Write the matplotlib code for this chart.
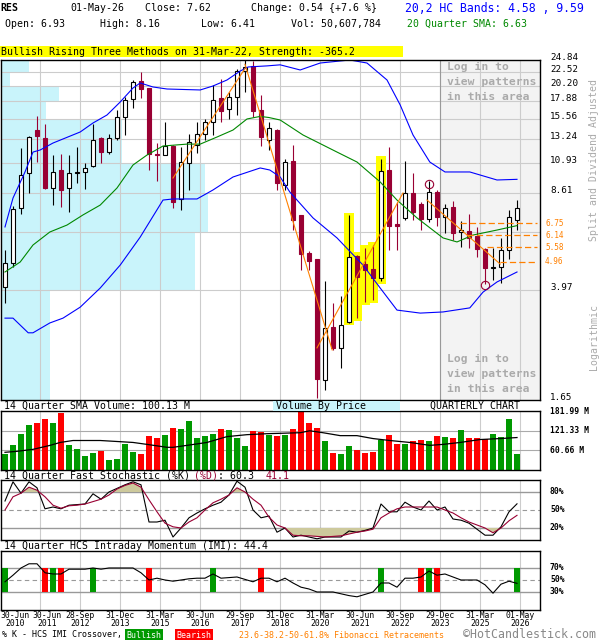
#!/usr/bin/env python3
"""Quarterly candlestick chart for RES in the HotCandlestick layout."""
import matplotlib
matplotlib.use("Agg")
import matplotlib.pyplot as plt
from matplotlib.patches import Rectangle
from matplotlib.transforms import blended_transform_factory as blend

plt.rcParams["font.family"] = "DejaVu Sans Mono"

# ── data: one entry per quarter, index 0 = Q2 2010 ... 64 = Q2 2026 ─────────
opens = [4.05, 4.91, 7.6, 10.1, 14.2, 13.3, 8.95, 10.3, 8.95, 10.1,
         10.2, 10.7, 13.3, 11.9, 13.3, 15.8, 18.2, 21.0, 19.8, 11.7,
         11.6, 12.5, 8.2, 10.9, 12.6, 13.8, 15.2, 18.4, 16.8, 18.5,
         22.7, 23.7, 16.7, 13.1, 14.2, 9.2, 11.1, 7.2, 5.35, 5.1,
         1.93, 2.96, 2.5, 3.07, 5.2, 4.9, 4.68, 4.35, 10.3, 6.7,
         7.05, 8.6, 7.9, 7.0, 8.7, 7.1, 7.7, 6.3, 6.35, 6.1,
         5.5, 4.73, 4.76, 5.46, 6.93]
highs = [5.46, 7.75, 12.3, 13.6, 15.9, 14.9, 11.6, 11.7, 11.6, 12.4,
         10.9, 14.9, 13.4, 13.8, 16.7, 18.5, 21.2, 22.6, 19.9, 12.8,
         15.1, 12.6, 12.4, 13.8, 15.2, 15.5, 20.3, 21.3, 19.3, 23.1,
         24.8, 24.6, 18.8, 15.1, 14.3, 11.3, 12.6, 7.2, 5.4, 5.1,
         4.26, 3.58, 3.78, 7.2, 5.25, 5.55, 5.7, 11.3, 12.4, 8.0,
         11.1, 10.1, 8.0, 9.45, 8.8, 7.9, 8.1, 6.9, 7.25, 6.55,
         5.55, 5.55, 6.0, 7.5, 8.16]
lows = [3.57, 4.77, 7.3, 8.6, 11.0, 8.9, 7.8, 7.7, 7.4, 9.3,
        8.9, 10.6, 10.9, 11.7, 13.1, 13.7, 17.0, 18.4, 10.3, 9.46,
        11.6, 7.6, 7.5, 8.8, 11.8, 13.1, 13.7, 15.1, 15.5, 16.0,
        19.3, 15.8, 12.5, 12.1, 8.8, 8.8, 6.4, 4.65, 4.65, 1.67,
        1.79, 2.46, 2.13, 3.05, 3.17, 3.6, 3.66, 4.26, 5.46, 5.46,
        6.95, 6.95, 6.4, 6.8, 6.6, 6.25, 5.9, 5.6, 5.55, 5.15,
        4.16, 4.3, 4.2, 5.1, 6.41]
closes = [4.91, 7.58, 9.93, 13.4, 13.5, 8.95, 10.2, 8.8, 10.1, 10.2,
          10.5, 13.1, 11.9, 13.3, 15.8, 18.1, 20.8, 19.7, 11.7, 11.6,
          12.5, 8.0, 11.0, 12.9, 13.8, 15.2, 18.1, 16.5, 18.5, 22.7,
          23.5, 16.5, 13.4, 14.4, 9.35, 11.0, 6.93, 5.3, 5.0, 1.95,
          2.93, 2.5, 3.0, 5.15, 4.4, 4.65, 4.35, 10.25, 6.6, 6.6,
          8.6, 7.4, 7.0, 8.7, 7.1, 7.6, 6.25, 6.4, 6.0, 5.5,
          4.73, 4.76, 5.46, 7.1, 7.62]
volume_m = [48.5, 75.8, 112, 139.5, 145.6, 157.7, 145.6, 176, 75.8, 63.7,
            42.5, 51.6, 57.6, 30.3, 33.4, 78.9, 54.6, 48.5, 106, 100,
            109, 130, 127, 152, 100, 106, 112, 127, 124, 100,
            72.8, 121, 118, 109, 106, 109, 127, 179, 145.6, 130,
            88, 51.6, 48.5, 72.8, 60.7, 51.6, 54.6, 94, 109, 78.9,
            78.9, 88, 94, 88, 106, 103, 100, 124, 100, 100,
            97, 112, 103, 158, 50.6]
stoch_k = [65, 97, 78, 97, 87, 52, 55, 52, 58, 59,
           60, 77, 68, 80, 86, 92, 97, 92, 30, 30,
           33, 5, 20, 37, 45, 52, 58, 63, 75, 98,
           88, 50, 37, 40, 13, 20, 5, 8, 5, 2,
           5, 5, 5, 15, 13, 16, 20, 60, 47, 47,
           63, 55, 50, 65, 50, 55, 35, 33, 28, 18,
           8, 8, 22, 47, 60.3]
stoch_d = [50, 72, 78, 88, 83, 72, 58, 53, 57, 58,
           60, 64, 68, 75, 85, 91, 95, 88, 67, 47,
           28, 22, 20, 30, 37, 50, 62, 68, 75, 87,
           80, 68, 58, 38, 25, 20, 8, 7, 7, 6,
           5, 6, 7, 10, 13, 15, 18, 37, 45, 52,
           55, 55, 55, 55, 55, 50, 45, 37, 30, 25,
           20, 12, 20, 32, 41.1]
imi = [47, 58, 70, 77, 77, 62, 60, 60, 68, 68,
       68, 70, 68, 70, 70, 70, 70, 62, 50, 53,
       50, 48, 50, 52, 53, 53, 60, 53, 54, 55,
       51, 47, 53, 53, 47, 53, 45, 38, 35, 30,
       30, 30, 27, 24, 22, 26, 30, 45, 45, 38,
       53, 53, 55, 65, 58, 60, 55, 50, 50, 50,
       42, 28, 43, 48, 44.4]

# overlay lines, read at (quarter, value) points
upper_q = [0, 1, 2.5, 3.5, 4.4, 6, 9.4, 11, 12.75, 14.4, 16, 16.9, 18.5, 20.25,
           24.4, 26, 27.75, 29.4, 30.4, 32.75, 34.4, 36.9, 39.4, 43.1, 45.25,
           47.75, 49.4, 51, 53.1, 55, 58.1, 61.5, 64]
upper_v = [6.56, 8.26, 10.17, 11.92, 12.12, 12.81, 13.99, 15.03, 16.02, 17.77,
           19.87, 20.68, 20.03, 19.71, 19.56, 20.19, 21.18, 22.75, 23.5, 23.7,
           23.9, 22.94, 24.25, 24.84, 24.25, 21.18, 17.35, 13.66, 11.01, 10.17,
           10.17, 9.54, 9.59]
lower_q = [0, 1, 2.9, 3.5, 5.6, 7.25, 9.4, 11.9, 14.4, 16.9, 19.75, 21, 24, 26,
           28.5, 31.9, 33.1, 34.4, 35.6, 38.5, 41.5, 44.75, 46.9, 49, 51.9,
           54.75, 58.1, 59.75, 61.5, 64]
lower_v = [3.17, 3.17, 2.82, 2.82, 3.05, 3.17, 3.46, 4.03, 4.84, 6.05, 8.13, 8.2,
           8.2, 8.81, 9.77, 10.5, 10.33, 9.77, 8.67, 7.05, 6.01, 4.84, 4.03,
           3.38, 3.30, 3.33, 3.44, 3.90, 4.23, 4.58]
sma_q = [0, 1.9, 3.5, 5.6, 7.75, 9.75, 11.9, 14, 16, 17.75, 19.75, 22.75, 24.4,
         26.5, 28.5, 30.25, 31.9, 33, 34.4, 37.25, 41.5, 44, 46.9, 49, 51.5,
         54.75, 56.5, 58.5, 61.5, 64]
sma_v = [4.58, 4.96, 5.68, 6.30, 6.66, 7.22, 7.81, 8.95, 10.75, 11.64, 12.51,
         12.7, 12.7, 13.44, 14.21, 15.52, 15.84, 15.7, 15.39, 13.66, 11.92,
         11.01, 9.39, 8.13, 7.05, 6.01, 5.82, 6.15, 6.40, 6.63]
vol_sma_q = [0, 1.5, 3.5, 5.6, 6.9, 8.5, 11.9, 16, 17.75, 20.25, 21, 22.75, 25.25,
             27.75, 30.25, 32.75, 36.9, 38.1, 39.75, 41.9, 44, 46, 48.1, 50.6,
             53.1, 54.75, 56.9, 59.4, 61.9, 64]
vol_sma_v = [54.6, 57.6, 63.7, 75.8, 85, 91, 91, 85, 79, 70, 70, 76, 85, 103,
             109, 112, 115, 121, 115, 106, 106, 97, 91, 85, 76, 79, 85, 94, 97,
             100.13]
zig_q = [[21, 30], [30, 40.9], [39, 49.75], [52.75, 61.9]]
zig_v = [[9.69, 23.2], [24.0, 2.46], [2.5, 8.6], [8.13, 4.88]]
fib_levels = [6.75, 6.14, 5.58, 4.96]
fib_start_q = [56.9, 57.75, 60.25, 61.9]
pivot_q = [53, 60]
pivot_v = [9.24, 4.13]
pattern_q = [43, 44, 45, 46, 47]
bull_cross_q = [0, 6, 11, 26, 47, 53, 64]
bear_cross_q = [5, 7, 18, 32, 52, 54]

# volume by price, per price-grid band (bottom to top)
price_grid = [1.65, 3.97, 6.29, 8.61, 10.93, 13.24, 15.56, 17.88, 20.20, 22.52, 24.84]
price_labels = ["1.65", "3.97", None, "8.61", "10.93", "13.24", "15.56",
                "17.88", "20.20", "22.52", "24.84"]
vbp_volume = [290, 1150, 1230, 1215, 720, 720, 265, 345, 55, 165]

tick_q = [0, 4, 9, 14, 19, 24, 29, 34, 39, 44, 49, 54, 59, 64]
tick_dates = ["30-Jun", "30-Jun", "28-Sep", "31-Dec", "31-Mar", "30-Jun", "29-Sep",
              "31-Dec", "31-Mar", "30-Jun", "30-Sep", "29-Dec", "31-Mar", "01-May"]
tick_years = ["2010", "2011", "2012", "2013", "2015", "2016", "2017",
              "2018", "2020", "2021", "2022", "2023", "2025", "2026"]

# ── style ───────────────────────────────────────────────────────────────────
W, H = 600, 640
X0, X1 = 1, 540                      # panel edges in pixels
XLIM = ((X0 - 5) / 8, (X1 - 5) / 8)  # quarter k sits at x = 5 + 8k
GRID_SHIFT = 0.375
GRID = "#cccccc"
LEVEL = "#999999"
RED_CANDLE = "#990033"
UP_GREEN = "#009900"
DOWN_RED = "#ff0000"
BLUE = "#0000ff"
SMA_GREEN = "#008800"
ORANGE = "#ff8000"
CYAN = "#c9f4fb"
FILL = "#cdc99c"
FS = 7.1
RIGHT_X = (550 - X0) / (X1 - X0)

fig = plt.figure(figsize=(W / 100, H / 100), dpi=100)


def fx(x):
    return x / W


def fy(y):
    return 1 - y / H


def ftext(x, y, s, **kw):
    kw.setdefault("fontsize", FS)
    kw.setdefault("va", "center")
    return fig.text(fx(x), fy(y), s, **kw)


def frect(x0, y0, x1, y1, color):
    fig.add_artist(Rectangle((fx(x0), fy(y1)), fx(x1) - fx(x0), fy(y0) - fy(y1),
                             transform=fig.transFigure, color=color, lw=0))


grid_q = [q + GRID_SHIFT for q in tick_q[1:]]


def panel(y0, y1):
    a = fig.add_axes([fx(X0), fy(y1), fx(X1) - fx(X0), fy(y0) - fy(y1)])
    a.set_xlim(XLIM)
    for s in a.spines.values():
        s.set_linewidth(1.0)
        s.set_zorder(10)
    for q in grid_q:
        a.axvline(q, color=GRID, lw=0.8, zorder=1)
    return a


def right_labels(a, values, labels, **kw):
    tr = blend(a.transAxes, a.transData)
    for v, s in zip(values, labels):
        if s:
            a.text(RIGHT_X, v, s, transform=tr, ha="left", **kw)


quarters = list(range(len(closes)))

# ── main price panel ────────────────────────────────────────────────────────
ax = panel(60, 400)
ax.set_yscale("log")
ax.set_ylim(price_grid[0], price_grid[-1])
ax.minorticks_off()
ax.set_xticks([])
ax.set_yticks([])
for v in price_grid[1:-1]:
    ax.axhline(v, color=GRID, lw=0.8, zorder=1)
right_labels(ax, price_grid, price_labels, va="baseline", fontsize=6.7)

lock_q = 54 + GRID_SHIFT
ax.axvspan(lock_q, XLIM[1], color="#f3f3f3", lw=0, zorder=0.3)
ax.axvline(lock_q, color=LEVEL, lw=0.8, zorder=1.2)

tr_vbp = blend(ax.transAxes, ax.transData)
vmax = max(vbp_volume)
for i, v in enumerate(vbp_volume):
    lo, hi = price_grid[i], price_grid[i + 1]
    ax.add_patch(Rectangle((0, lo), v / vmax * 0.384, hi - lo, transform=tr_vbp,
                           color=CYAN, lw=0, zorder=0.5))

for k in pattern_q:
    lo, hi = lows[k] / 1.02, highs[k] * 1.02
    ax.add_patch(Rectangle((k - 0.68, lo), 1.36, hi - lo, color="#ffff00",
                           lw=0, zorder=2))

for k, o, h, l, c in zip(quarters, opens, highs, lows, closes):
    up = c >= o
    col = "black" if up else RED_CANDLE
    ax.vlines(k, l, h, color=col, lw=0.8, zorder=3)
    b, t = min(o, c), max(o, c)
    ax.add_patch(Rectangle((k - 0.3, b), 0.6, t - b,
                           facecolor="white" if up else RED_CANDLE,
                           edgecolor=col, lw=0.8, zorder=4))

ax.plot(upper_q, upper_v, color=BLUE, lw=0.8, zorder=5)
ax.plot(lower_q, lower_v, color=BLUE, lw=0.8, zorder=5)
ax.plot(sma_q, sma_v, color=SMA_GREEN, lw=0.8, zorder=5)
for qs, vs in zip(zig_q, zig_v):
    ax.plot(qs, vs, color=ORANGE, lw=0.8, zorder=6)
for v, q0 in zip(fib_levels, fib_start_q):
    ax.plot([q0, (537 - 5) / 8], [v, v], color=ORANGE, lw=0.9,
            ls=(0, (5, 2.5)), zorder=6, clip_on=False)
tr_fib = blend(ax.transAxes, ax.transData)
for v in fib_levels:
    ax.text((545 - X0) / (X1 - X0), v, f"{v:.2f}", transform=tr_fib,
            color=ORANGE, fontsize=5.6, va="center", ha="left")
ax.plot(pivot_q, pivot_v, "o", mfc="none", mec=RED_CANDLE, ms=6, mew=0.8,
        zorder=7)

for y, s in zip([67, 82, 97, 359, 374, 389],
                ["Log in to", "view patterns", "in this area"] * 2):
    ftext(447, y, s, color="#aaaaaa", fontsize=8.2, fontweight="bold")

# ── volume panel ────────────────────────────────────────────────────────────
axv = panel(411, 470)
axv.set_ylim(0, 182)
axv.set_xticks([])
axv.set_yticks([])
vol_levels = [60.66, 121.33, 181.99]
for v in vol_levels[:2]:
    axv.axhline(v, color="#aaaaaa", lw=0.8, zorder=1)
bar_colors = [UP_GREEN if c >= o else DOWN_RED for o, c in zip(opens, closes)]
axv.bar(quarters, volume_m, width=0.68, color=bar_colors, zorder=3)
axv.plot(vol_sma_q, vol_sma_v, color="black", lw=0.9, zorder=4)
right_labels(axv, vol_levels, ["60.66 M", "121.33 M", "181.99 M"],
             va="center", fontsize=5.8, fontweight="bold")

# ── stochastic panel ────────────────────────────────────────────────────────
axs = panel(480, 540)
axs.set_ylim(0, 100)
axs.set_xticks([])
axs.set_yticks([])
for v in (80, 20):
    axs.axhline(v, color=LEVEL, lw=1.0, zorder=1)
axs.axhline(50, color=LEVEL, lw=0.8, ls=(0, (4, 3)), zorder=1)
axs.fill_between(quarters, stoch_d, 80, where=[d >= 80 for d in stoch_d],
                 interpolate=True, color=FILL, lw=0, zorder=2)
axs.fill_between(quarters, stoch_d, 20, where=[d <= 20 for d in stoch_d],
                 interpolate=True, color=FILL, lw=0, zorder=2)
axs.plot(quarters, stoch_k, color="black", lw=0.8, zorder=4)
axs.plot(quarters, stoch_d, color=RED_CANDLE, lw=0.8, zorder=4)
right_labels(axs, [80, 50, 20], ["80%", "50%", "20%"], va="center",
             fontsize=5.8, fontweight="bold")

# ── IMI panel ───────────────────────────────────────────────────────────────
axi = panel(551, 610)
axi.set_ylim(0, 98.3)
axi.set_xticks([])
axi.set_yticks([])
for v in (70, 30):
    axi.axhline(v, color=LEVEL, lw=1.0, zorder=1)
axi.axhline(50, color=LEVEL, lw=0.8, ls=(0, (4, 3)), zorder=1)
for qs, col in ((bull_cross_q, UP_GREEN), (bear_cross_q, DOWN_RED)):
    for q in qs:
        axi.add_patch(Rectangle((q - 0.37, 30), 0.74, 40, color=col, lw=0, zorder=2))
axi.plot(quarters, imi, color="black", lw=0.8, zorder=4)
right_labels(axi, [70, 50, 30], ["70%", "50%", "30%"], va="center",
             fontsize=5.8, fontweight="bold")

# x-axis date labels
label_x = [5 + 8 * q + 3 for q in tick_q]
label_x[0] = max(label_x[0], 15)
label_x[1] = max(label_x[1], label_x[0] + 32)
for x, d, yr in zip(label_x, tick_dates, tick_years):
    ftext(x, 616, d, ha="center", fontsize=5.9)
    ftext(x, 624, yr, ha="center", fontsize=5.9)

# ── header and captions ─────────────────────────────────────────────────────
ftext(0, 8, "RES", fontweight="bold")
ftext(70, 8, "01-May-26")
ftext(145, 8, "Close: 7.62")
ftext(251, 8, "Change: 0.54 {+7.6 %}")
ftext(5, 24, "Open: 6.93")
ftext(100, 24, "High: 8.16")
ftext(201, 24, "Low: 6.41")
ftext(291, 24, "Vol: 50,607,784")
ftext(405, 8, "20,2 HC Bands: 4.58 , 9.59", color=BLUE, fontsize=8.3)
ftext(407, 24, "20 Quarter SMA: 6.63", color=SMA_GREEN)

frect(0, 46, 403, 57, "#ffff00")
ftext(1, 52, "Bullish Rising Three Methods on 31-Mar-22, Strength: -365.2")

ftext(4, 406, "14 Quarter SMA Volume: 100.13 M")
frect(273, 401, 400, 411, CYAN)
ftext(276, 406, "Volume By Price")
ftext(430, 406, "QUARTERLY CHART")

cw = 0.602 * FS * 100 / 72   # monospace advance in pixels
parts = [("14 Quarter Fast Stochastic (%K) ", "black"), ("(%D)", RED_CANDLE),
         (": 60.3  ", "black"), ("41.1", RED_CANDLE)]
pos = 4
for s, col in parts:
    ftext(pos, 476, s, color=col)
    pos += len(s) * cw
ftext(4, 546, "14 Quarter HCS Intraday Momentum (IMI): 44.4")

fig.text(fx(594), fy(160), "Split and Dividend Adjusted", rotation=90,
         ha="center", va="center", fontsize=FS, color="#aaaaaa")
fig.text(fx(594), fy(337), "Logarithmic", rotation=90,
         ha="center", va="center", fontsize=FS, color="#aaaaaa")

ftext(2, 635, "% K - HCS IMI Crossover,", fontsize=6)
frect(125, 629, 163, 641, UP_GREEN)
ftext(144, 635, "Bullish", color="white", ha="center", fontsize=6)
frect(175, 629, 213, 641, DOWN_RED)
ftext(194, 635, "Bearish", color="white", ha="center", fontsize=6)
ftext(239, 635, "23.6-38.2-50-61.8% Fibonacci Retracements", color=ORANGE,
      fontsize=6)
ftext(463, 634, "\u00a9HotCandlestick.com", color="#888888", fontsize=8.4)

fig.savefig("out.png", dpi=100)
